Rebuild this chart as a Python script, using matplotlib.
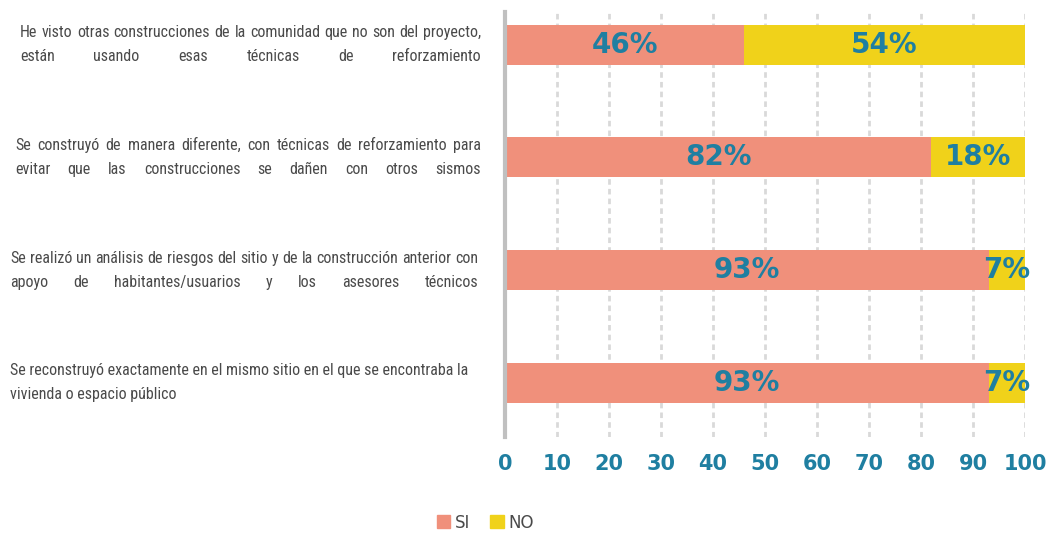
import matplotlib.pyplot as plt
from matplotlib import font_manager
from matplotlib.patches import Patch
from matplotlib.transforms import IdentityTransform

# datos de la grafica
etiquetas = [
    ["He visto otras construcciones de la comunidad que no son del proyecto,",
     "están usando esas técnicas de reforzamiento"],
    ["Se construyó de manera diferente, con técnicas de reforzamiento para",
     "evitar que las construcciones se dañen con otros sismos"],
    ["Se realizó un análisis de riesgos del sitio y de la construcción anterior con",
     "apoyo de habitantes/usuarios y los asesores técnicos"],
    ["Se reconstruyó exactamente en el mismo sitio en el que se encontraba la",
     "vivienda o espacio público"],
]
si = [46, 82, 93, 93]
no = [54, 18, 7, 7]
ticks = [0, 10, 20, 30, 40, 50, 60, 70, 80, 90, 100]

# colores
c_si = '#F0907B'
c_no = '#F0D21A'
c_teal = '#1F7FA1'
c_gris = '#4A4A4A'

# fuente estrecha para las etiquetas si existe
disponibles = {f.name for f in font_manager.fontManager.ttflist}
fuente = 'Liberation Sans'
for f in ['Liberation Sans Narrow', 'DejaVu Sans Condensed', 'Roboto Condensed']:
    if f in disponibles:
        fuente = f
        break

W, H = 1051, 537
fig = plt.figure(figsize=(W / 100, H / 100), dpi=100)
ax = fig.add_axes([505 / W, 1 - 437 / H, 520 / W, 425 / H])

y = list(range(len(si)))
b1 = ax.barh(y, si, height=0.355, color=c_si, zorder=2)
b2 = ax.barh(y, no, left=si, height=0.355, color=c_no, zorder=2)
ax.bar_label(b1, labels=[f'{v}%' for v in si], label_type='center',
             color=c_teal, fontsize=20, fontweight='bold')
ax.bar_label(b2, labels=[f'{v}%' for v in no], label_type='center',
             color=c_teal, fontsize=20, fontweight='bold')

ax.set_xlim(0, 100)
ax.set_ylim(3.48, -0.29)
ax.set_xticks(ticks)
ax.set_yticks([])
ax.tick_params(axis='x', length=0, pad=12, labelsize=15, labelcolor=c_teal)
for lab in ax.get_xticklabels():
    lab.set_fontweight('bold')
for s in ['top', 'right', 'bottom']:
    ax.spines[s].set_visible(False)
ax.spines['left'].set_color('#C0C0C0')
ax.spines['left'].set_linewidth(3)
ax.grid(axis='x', color='#D9D9D9', linestyle=(0, (2, 1.5)), linewidth=2)
ax.set_axisbelow(True)

# etiquetas justificadas a la izquierda
r = fig.canvas.get_renderer()
x_ini = [20, 15, 10, 10]
x_fin = [481, 481, 478, 478]
justificar = [True, True, True, False]
tam = 14.5


def ancho(s, size):
    t = fig.text(0, 0, s, fontsize=size, family=fuente)
    w = t.get_window_extent(renderer=r).width
    t.remove()
    return w


# reducir la fuente hasta que las lineas quepan
while max(ancho(l, tam) for lin in etiquetas for l in lin) > 466 and tam > 6:
    tam -= 0.25

sep = 12
for i, lineas in enumerate(etiquetas):
    yc = ax.transData.transform((0, i))[1]
    for k, linea in enumerate(lineas):
        yl = yc + sep - k * 2 * sep
        if justificar[i]:
            palabras = linea.split()
            anchos = [ancho(p, tam) for p in palabras]
            hueco = (x_fin[i] - x_ini[i] - sum(anchos)) / (len(palabras) - 1)
            x = x_ini[i]
            for p, w in zip(palabras, anchos):
                fig.text(x, yl, p, transform=IdentityTransform(), fontsize=tam,
                         family=fuente, color=c_gris, va='center')
                x += w + hueco
        else:
            fig.text(x_ini[i], yl, linea, transform=IdentityTransform(), fontsize=tam,
                     family=fuente, color=c_gris, va='center')

# leyenda
handles = [Patch(color=c_si, label='SI'), Patch(color=c_no, label='NO')]
fig.legend(handles=handles, loc='lower center', bbox_to_anchor=(0.462, -0.018), ncol=2,
           frameon=False, handlelength=0.8, handleheight=0.8, handletextpad=0.3,
           columnspacing=1.2, fontsize=12, labelcolor=c_gris)

fig.savefig('out.png', dpi=100)
